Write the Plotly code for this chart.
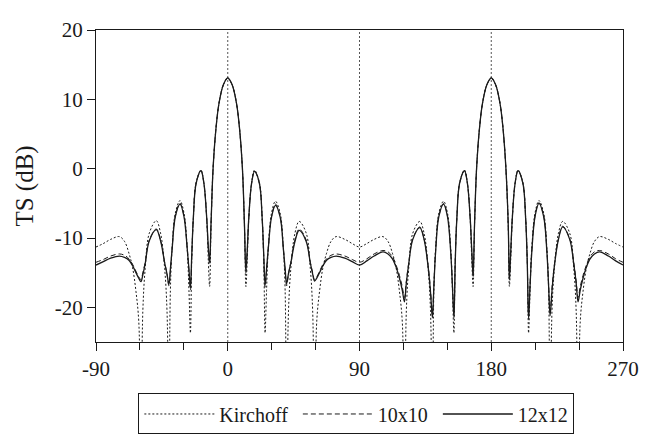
import plotly.graph_objects as go

# angles (deg) and target strength (dB)
angle = [
    -90, -85, -80, -74, -70.5, -67.5, -65, -62.7, -60.8, -59.3,
    -58.0, -56.4, -53.6, -48.8, -45.9, -43.1, -41.5, -40.2,
    -39.2, -38.0, -35.8, -32.6, -29.9, -27.7, -26.5, -25.5,
    -24.6, -23.5, -21.6, -18.3, -16.3, -14.4, -13.3, -12.4,
    -11.4, -10, -8, -6, -3, 0, 3, 6, 8, 10, 11.4, 12.4,
    13.3, 14.4, 16.3, 18.3, 21.6, 23.5, 24.6, 25.5,
    26.5, 27.7, 29.9, 32.6, 35.8, 38.0, 39.2, 40.2,
    41.5, 43.1, 45.9, 48.8, 53.6, 56.4, 58.0, 59.3,
    60.8, 62.7, 65, 67.5, 70.5, 74, 80, 85, 90,
    95, 100, 106, 109.5, 112.5, 115, 117.3, 119.2, 120.7,
    122.0, 123.6, 126.4, 131.2, 134.1, 136.9, 138.5, 139.8,
    140.8, 142.0, 144.2, 147.4, 150.1, 152.3, 153.5, 154.5,
    155.4, 156.5, 158.4, 161.7, 163.7, 165.6, 166.7, 167.6,
    168.6, 170, 172, 174, 177, 180, 183, 186, 188, 190, 191.6, 192.4,
    193.3, 194.4, 196.3, 198.3, 201.6, 203.5, 204.6, 205.5,
    206.5, 207.7, 209.9, 212.6, 215.8, 218.0, 219.2, 220.2,
    221.5, 223.1, 225.9, 228.8, 233.6, 236.4, 238.0, 239.3,
    240.8, 242.7, 245, 247.5, 250.5, 254, 260, 265, 270,
]

kirchoff = [
    -11.3, -10.8, -10.2, -9.8, -10.5, -12.2, -14.3, -17.7, -22, -36,
    -20.5, -14.4, -9.3, -7.5, -9.3, -14.4, -20.5, -36,
    -17.6, -11.5, -6.4, -4.6, -6.4, -11.5, -17.6, -23.7,
    -13.2, -7.1, -2.0, -0.2, -2.0, -7.1, -13.2, -17,
    -8.2, 0.1, 5.9, 9.4, 12.1, 13.0, 12.1, 9.4, 5.9, 0.1, -8.2, -17,
    -13.2, -7.1, -2.0, -0.2, -2.0, -7.1, -13.2, -23.7,
    -17.6, -11.5, -6.4, -4.7, -6.4, -11.5, -17.6, -36,
    -20.5, -14.4, -9.3, -7.6, -9.3, -14.4, -20.5, -36,
    -22, -17.7, -14.3, -12.2, -10.5, -9.8, -10.2, -10.8, -11.3,
    -10.8, -10.2, -9.8, -10.5, -12.2, -14.3, -17.7, -22, -36,
    -20.5, -14.4, -9.3, -7.6, -9.3, -14.4, -20.5, -36,
    -17.6, -11.5, -6.4, -4.7, -6.4, -11.5, -17.6, -23.7,
    -13.2, -7.1, -2.0, -0.2, -2.0, -7.1, -13.2, -17,
    -8.2, 0.1, 5.9, 9.4, 12.1, 13.0, 12.1, 9.4, 5.9, 0.1, -8.2, -17,
    -13.2, -7.1, -2.0, -0.2, -2.0, -7.1, -13.2, -23.7,
    -17.6, -11.5, -6.4, -4.6, -6.4, -11.5, -17.6, -36,
    -20.5, -14.4, -9.3, -7.6, -9.3, -14.4, -20.5, -36,
    -22, -17.7, -14.3, -12.2, -10.5, -9.8, -10.2, -10.8, -11.3,
]

mesh_10 = [
    -13.5, -13.1, -12.6, -12.3, -12.5, -13.0, -13.8, -14.8, -15.6, -16.0,
    -15.0, -13.5, -10.3, -8.7, -10.3, -13.5, -15.2, -16.9,
    -14.8, -11.5, -6.8, -5.0, -6.8, -11.4, -14.8, -17.5,
    -12.8, -7.1, -2.1, -0.3, -2.1, -7.0, -11.5, -13.8,
    -7.9, 0.1, 5.9, 9.4, 12.1, 13.1, 12.1, 9.4, 5.9, 0.1, -8.1, -15.0,
    -12.0, -7.0, -2.1, -0.4, -2.1, -7.1, -12.8, -17.1,
    -14.7, -11.4, -6.9, -5.1, -6.9, -11.5, -14.7, -16.9,
    -15.2, -13.5, -10.3, -8.7, -10.3, -13.5, -15.0, -16.0,
    -15.6, -14.8, -13.8, -13.0, -12.5, -12.3, -12.6, -13.1, -13.5,
    -13.0, -12.3, -11.8, -12.0, -12.7, -13.9, -15.4, -17.0, -18.6,
    -16.2, -13.6, -10.1, -8.4, -10.1, -14.0, -17.5, -21.0,
    -16.8, -11.8, -6.8, -5.0, -6.8, -11.8, -16.8, -21.0,
    -13.3, -7.1, -2.1, -0.3, -2.1, -7.1, -12.0, -15.6,
    -8.0, 0.1, 5.9, 9.4, 12.1, 13.1, 12.1, 9.4, 5.9, 0.1, -8.1, -16.2,
    -12.2, -7.1, -2.1, -0.3, -2.1, -7.1, -13.3, -21.2,
    -16.7, -11.8, -6.8, -4.9, -6.8, -11.8, -16.7, -20.8,
    -17.2, -13.9, -10.1, -8.3, -10.1, -13.6, -16.2, -18.6,
    -17.0, -15.4, -13.9, -12.7, -12.0, -11.8, -12.3, -13.0, -13.5,
]

mesh_12 = [
    -13.9, -13.4, -12.9, -12.6, -12.8, -13.2, -14.0, -15.0, -15.8, -16.3,
    -15.3, -13.7, -10.4, -8.8, -10.4, -13.6, -15.2, -16.7,
    -14.5, -11.6, -6.9, -5.1, -6.9, -11.5, -14.5, -17.2,
    -12.5, -7.1, -2.1, -0.3, -2.1, -7.0, -11.2, -13.5,
    -7.8, 0.1, 5.9, 9.4, 12.1, 13.1, 12.1, 9.4, 5.9, 0.1, -8.0, -14.8,
    -11.8, -7.0, -2.1, -0.4, -2.1, -7.1, -12.5, -16.8,
    -14.5, -11.5, -7.0, -5.3, -7.0, -11.6, -14.4, -16.6,
    -15.1, -13.6, -10.5, -8.9, -10.5, -13.6, -15.2, -16.2,
    -15.8, -15.0, -14.0, -13.2, -12.8, -12.6, -12.9, -13.4, -13.9,
    -13.3, -12.6, -12.0, -12.3, -13.0, -14.2, -15.8, -17.5, -19.2,
    -16.5, -13.8, -10.2, -8.5, -10.2, -14.2, -17.8, -21.5,
    -17.0, -12.0, -6.9, -5.1, -6.9, -12.0, -17.0, -21.5,
    -13.5, -7.2, -2.1, -0.3, -2.1, -7.1, -11.8, -15.3,
    -7.9, 0.1, 5.9, 9.4, 12.1, 13.1, 12.1, 9.4, 5.9, 0.1, -8.0, -15.8,
    -12.0, -7.1, -2.1, -0.3, -2.1, -7.2, -13.5, -21.7,
    -17.0, -12.0, -6.9, -5.0, -6.9, -12.0, -17.0, -21.2,
    -17.6, -14.1, -10.2, -8.4, -10.2, -13.8, -16.5, -19.2,
    -17.5, -15.8, -14.2, -13.0, -12.3, -12.0, -12.6, -13.3, -13.9,
]

ref_angles = [0, 90, 180]
x_ticks = [-90, 0, 90, 180, 270]
x_labels = ["-90", "0", "90", "180", "270"]
y_ticks = [-20, -10, 0, 10, 20]
y_labels = ["-20", "-10", "0", "10", "20"]

FONT = "Liberation Serif, Times New Roman, serif"
INK = "#1a1a1a"
NBSP = "\u00a0"

fig = go.Figure()

for name, ys, dash, width in [
    ("Kirchoff" + NBSP, kirchoff, "2px,2px", 1),
    ("10x10" + NBSP, mesh_10, "5px,3px", 1),
    ("12x12", mesh_12, "solid", 1.3),
]:
    fig.add_trace(go.Scatter(
        x=angle, y=ys, name=name, mode="lines",
        line=dict(color=INK, width=width, dash=dash, shape="spline", smoothing=1.0),
    ))

for a in ref_angles:
    fig.add_vline(x=a, line=dict(color="#555", width=1, dash="2px,2px"), layer="below")

fig.update_xaxes(
    range=[-90, 270], tickvals=x_ticks, ticktext=x_labels,
    ticks="outside", ticklen=8, tickcolor=INK, ticklabeloverflow="allow",
    showline=True, linecolor=INK, linewidth=1, mirror=True,
    showgrid=False, zeroline=False,
    minor=dict(dtick=30, tick0=0, ticks="outside", ticklen=7, tickcolor=INK),
)
fig.update_yaxes(
    range=[-25, 20], tickvals=y_ticks, ticktext=y_labels,
    ticks="outside", ticklen=8, tickcolor=INK, ticklabeloverflow="allow",
    showline=True, linecolor=INK, linewidth=1, mirror=True,
    showgrid=False, zeroline=False, title=dict(text="TS (dB)", standoff=14),
)

# page body has an 8px margin, so the figure is shrunk by that much
fig.update_layout(
    width=641, height=437,
    margin=dict(l=88, r=17, t=10, b=88),
    paper_bgcolor="white", plot_bgcolor="white",
    font=dict(family=FONT, size=21, color=INK),
    legend=dict(
        orientation="h", x=0.494, xanchor="center", y=-0.165, yanchor="top",
        bordercolor=INK, borderwidth=1, itemwidth=70, font=dict(size=20),
        traceorder="normal",
    ),
)

fig.write_html("out.html")
